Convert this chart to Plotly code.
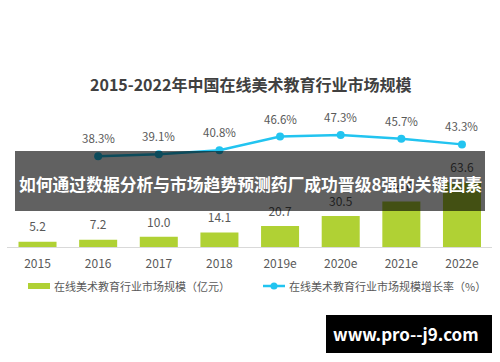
import plotly.graph_objects as go

# ---- data ----
years = ["2015", "2016", "2017", "2018", "2019e", "2020e", "2021e", "2022e"]
market_size = [5.2, 7.2, 10.0, 14.1, 20.7, 30.5, 44.6, 63.6]
growth_years = ["2016", "2017", "2018", "2019e", "2020e", "2021e", "2022e"]
growth_rate = [38.3, 39.1, 40.8, 46.6, 47.3, 45.7, 43.3]

title_text = "2015-2022年中国在线美术教育行业市场规模"
banner_text = "如何通过数据分析与市场趋势预测药厂成功晋级8强的关键因素"
legend_bar = "在线美术教育行业市场规模（亿元）"
legend_line = "在线美术教育行业市场规模增长率（%）"
watermark = "www.pro--j9.com"

W, H = 500, 362
FONT = "Noto Sans CJK SC, Noto Sans, sans-serif"
GREEN = "#b0d134"
CYAN = "#22c4f0"
GRAY = "#595959"


def px(x):
    return x / W


def py(y):
    return 1 - y / H


fig = go.Figure()

fig.add_trace(go.Bar(
    x=years, y=market_size, marker_color=GREEN, marker_line_width=0,
    showlegend=False, hoverinfo="skip",
))

# value labels above bars (a trace, so the banner overlay covers them)
fig.add_trace(go.Scatter(
    x=years, y=market_size, mode="markers+text",
    marker=dict(size=10, color="rgba(0,0,0,0)"),
    text=[f"{v:.1f}" for v in market_size], textposition="top center",
    textfont=dict(size=12, color=GRAY, family=FONT), cliponaxis=False,
    showlegend=False, hoverinfo="skip",
))

fig.add_trace(go.Scatter(
    x=growth_years, y=growth_rate, yaxis="y2", mode="lines+markers",
    line=dict(color=CYAN, width=2.5), marker=dict(size=8, color=CYAN),
    cliponaxis=False, showlegend=False, hoverinfo="skip",
))

annotations = []
for gx, gv in zip(growth_years, growth_rate):
    annotations.append(dict(
        x=years.index(gx), y=gv, xref="x", yref="y2", text=f"{gv:.1f}%",
        showarrow=False, yshift=18,
        font=dict(size=11.5, color=GRAY, family=FONT),
    ))

annotations += [
    dict(x=0.5, y=py(84), xref="paper", yref="paper", text=f"<b>{title_text}</b>",
         showarrow=False, xanchor="center", yanchor="middle",
         font=dict(size=16, color="#404040", family=FONT)),
    dict(x=0.5, y=py(184), xref="paper", yref="paper", text=f"<b>{banner_text}</b>",
         showarrow=False, xanchor="center", yanchor="middle",
         font=dict(size=16.8, color="white", family=FONT)),
    dict(x=px(52), y=py(286), xref="paper", yref="paper", text=legend_bar,
         showarrow=False, xanchor="left", yanchor="middle",
         font=dict(size=11, color=GRAY, family=FONT)),
    dict(x=px(287), y=py(286), xref="paper", yref="paper", text=legend_line,
         showarrow=False, xanchor="left", yanchor="middle",
         font=dict(size=11, color=GRAY, family=FONT)),
    dict(x=px(406), y=py(333), xref="paper", yref="paper", text=f"<b>{watermark}</b>",
         showarrow=False, xanchor="center", yanchor="middle",
         font=dict(size=17, color="white", family=FONT)),
]

shapes = [
    # banner overlay
    dict(type="rect", xref="paper", yref="paper", x0=px(15), x1=px(485),
         y0=py(211), y1=py(151), fillcolor="rgba(0,0,0,0.62)", line_width=0,
         layer="above"),
    # legend swatches
    dict(type="rect", xref="paper", yref="paper", x0=px(28), x1=px(50),
         y0=py(289), y1=py(283), fillcolor=GREEN, line_width=0),
    dict(type="line", xref="paper", yref="paper", x0=px(263), x1=px(285),
         y0=py(286), y1=py(286), line=dict(color=CYAN, width=2.5)),
    dict(type="circle", xref="paper", yref="paper", x0=px(270.5), x1=px(277.5),
         y0=py(289.5), y1=py(282.5), fillcolor=CYAN, line_width=0),
    # watermark box
    dict(type="rect", xref="paper", yref="paper", x0=px(326), x1=px(492),
         y0=py(353), y1=py(315), fillcolor="black", line_width=0),
]

y_dom = [py(247), py(110)]
h_px = 247 - 110

fig.update_layout(
    width=W, height=H, margin=dict(l=0, r=0, t=0, b=0),
    paper_bgcolor="white", plot_bgcolor="white",
    bargap=0.373,
    xaxis=dict(type="category", categoryorder="array", categoryarray=years,
               range=[-0.5, len(years) - 0.5],
               domain=[px(7.2), px(492.3)], showgrid=False, zeroline=False,
               showline=True, linecolor="#d9d9d9", linewidth=1, ticks="",
               ticklabelstandoff=6,
               tickfont=dict(size=12, color=GRAY, family=FONT), fixedrange=True),
    yaxis=dict(domain=y_dom, range=[0, h_px / 1.02], visible=False, fixedrange=True),
    yaxis2=dict(domain=y_dom, range=[0, h_px / 2.37], overlaying="y", visible=False,
                anchor="x", fixedrange=True),
    annotations=annotations, shapes=shapes, showlegend=False,
    font=dict(family=FONT),
)

fig.write_html(
    "out.html",
    config={"displayModeBar": False},
    post_script="document.body.style.margin='0';document.body.style.overflow='hidden';",
)
